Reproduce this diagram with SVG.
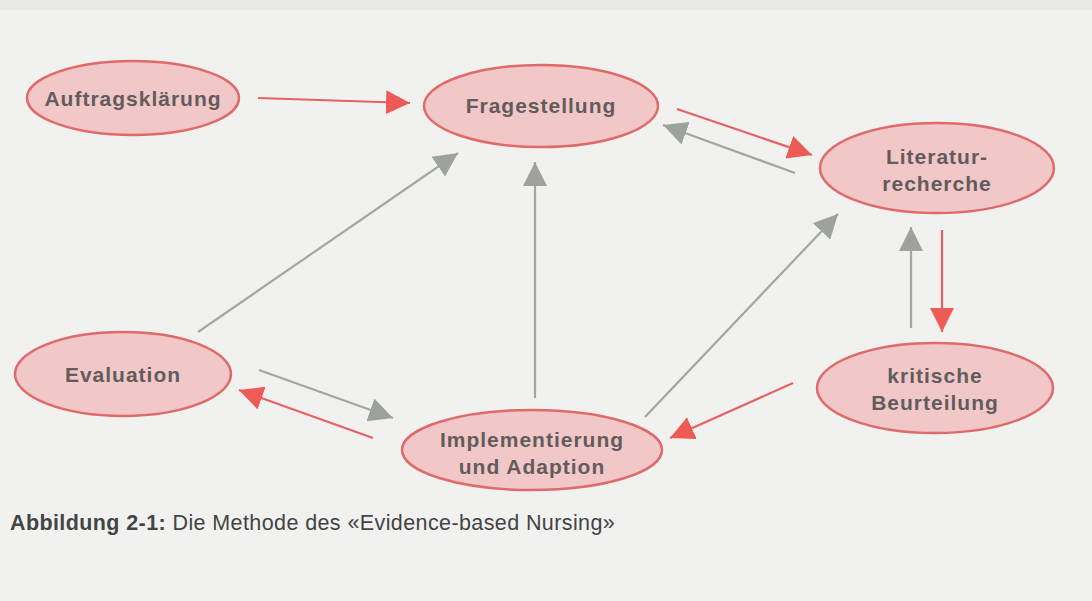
<svg xmlns="http://www.w3.org/2000/svg" width="1092" height="601" viewBox="0 0 1092 601">
<defs>
<style>
.node ellipse{fill:#f2c7c7;stroke:#e06a6a;stroke-width:2.5}
.node text{font-family:"Liberation Sans",Arial,sans-serif;font-weight:bold;font-size:21px;fill:#625c5c;text-anchor:middle;letter-spacing:1px}
.red{stroke:#e86060;stroke-width:2.2;fill:none}
.gray{stroke:#a3a6a3;stroke-width:2.2;fill:none}
.cap{font-family:"Liberation Sans",Arial,sans-serif;font-size:21.5px;fill:#444;letter-spacing:0.4px}
</style>
<marker id="ar" viewBox="0 0 10 10" refX="10" refY="5" markerWidth="24" markerHeight="24" markerUnits="userSpaceOnUse" orient="auto">
<path d="M0,0 L10,5 L0,10 Z" fill="#ee5a57"/>
</marker>
<marker id="ag" viewBox="0 0 10 10" refX="10" refY="5" markerWidth="24" markerHeight="24" markerUnits="userSpaceOnUse" orient="auto">
<path d="M0,0 L10,5 L0,10 Z" fill="#9ea29f"/>
</marker>
</defs>
<rect width="1092" height="601" fill="#f1f2f0"/>
<rect width="1092" height="10" fill="#e9eae8"/>
<g id="connectors">
<line class="red" x1="258" y1="98" x2="410" y2="103" marker-end="url(#ar)"/>
<line class="red" x1="677" y1="109" x2="812" y2="155" marker-end="url(#ar)"/>
<line class="gray" x1="795" y1="173" x2="663" y2="125" marker-end="url(#ag)"/>
<line class="red" x1="942" y1="230" x2="942" y2="332" marker-end="url(#ar)"/>
<line class="gray" x1="911" y1="328" x2="911" y2="227" marker-end="url(#ag)"/>
<line class="red" x1="793" y1="383" x2="670" y2="438" marker-end="url(#ar)"/>
<line class="gray" x1="645" y1="417" x2="838" y2="214" marker-end="url(#ag)"/>
<line class="gray" x1="198" y1="332" x2="458" y2="153" marker-end="url(#ag)"/>
<line class="gray" x1="535" y1="398" x2="535" y2="162" marker-end="url(#ag)"/>
<line class="gray" x1="259" y1="370" x2="393" y2="418" marker-end="url(#ag)"/>
<line class="red" x1="373" y1="438" x2="239" y2="390" marker-end="url(#ar)"/>
</g>
<g id="auftragsklaerung" class="node">
<ellipse cx="133" cy="98" rx="106" ry="37"/>
<text x="133" y="106">Auftragsklärung</text>
</g>
<g id="fragestellung" class="node">
<ellipse cx="541" cy="106" rx="117" ry="41"/>
<text x="541" y="113">Fragestellung</text>
</g>
<g id="literaturrecherche" class="node">
<ellipse cx="937" cy="168" rx="117" ry="45"/>
<text x="937" y="164">Literatur-</text>
<text x="937" y="191">recherche</text>
</g>
<g id="kritische-beurteilung" class="node">
<ellipse cx="935" cy="388" rx="118" ry="45"/>
<text x="935" y="383">kritische</text>
<text x="935" y="410">Beurteilung</text>
</g>
<g id="evaluation" class="node">
<ellipse cx="123" cy="374" rx="108" ry="42"/>
<text x="123" y="382">Evaluation</text>
</g>
<g id="implementierung" class="node">
<ellipse cx="532" cy="450" rx="130" ry="40"/>
<text x="532" y="447">Implementierung</text>
<text x="532" y="474">und Adaption</text>
</g>
<text class="cap" x="10" y="530"><tspan font-weight="bold">Abbildung 2-1:</tspan> Die Methode des «Evidence-based Nursing»</text>
</svg>
